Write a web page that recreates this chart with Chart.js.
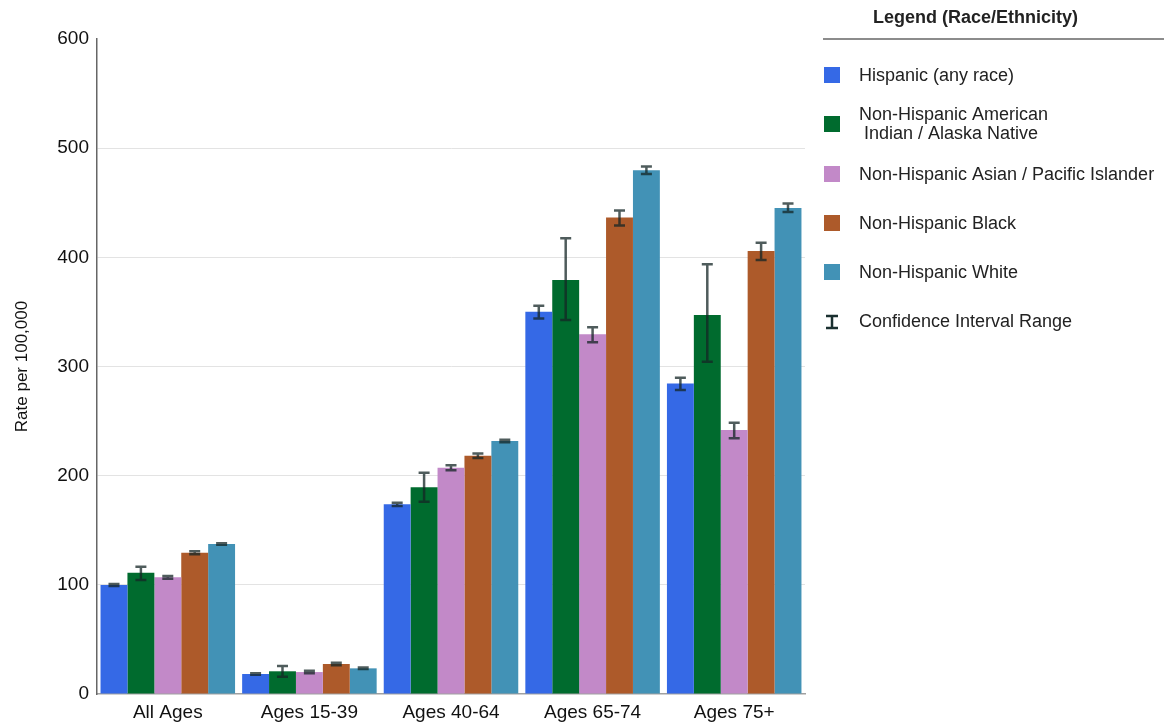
<!DOCTYPE html>
<html>
<head>
<meta charset="utf-8">
<script src="https://cdn.jsdelivr.net/npm/chart.js@4.4.1/dist/chart.umd.min.js"></script>
<style>
    body { margin: 0; background: #fff; font-family: "Liberation Sans", Arial, sans-serif; }
    #wrap { position: relative; width: 1164px; height: 726px; }
    #chart { position: absolute; left: 0; top: 0; }
    #legend { position: absolute; left: 823px; top: 0; width: 341px; color: #222; }
    #legend .title { position: absolute; left: 0; width: 305px; top: 7px; text-align: center; font-weight: bold; font-size: 18px; }
    #legend .rule { position: absolute; left: 0; top: 38px; width: 341px; height: 2px; background: #8c8c8c; }
    #legend .item { position: absolute; left: 0; font-size: 18px; line-height: 19px; }
    #legend .sw { position: absolute; left: 1px; width: 16px; height: 16px; }
    #legend .txt { position: absolute; left: 36px; white-space: nowrap; }
</style>
</head>
<body>
<div id="wrap">
    <canvas id="chart" width="1164" height="726"></canvas>
    <div id="legend"></div>
</div>
<script>
/* ===== DATA ===== */
const categories = ['All Ages', 'Ages 15-39', 'Ages 40-64', 'Ages 65-74', 'Ages 75+'];
const seriesNames = [
    'Hispanic (any race)',
    'Non-Hispanic American\n Indian / Alaska Native',
    'Non-Hispanic Asian / Pacific Islander',
    'Non-Hispanic Black',
    'Non-Hispanic White'
];
const seriesColors = ['#3569e6', '#006b2e', '#c289c8', '#ad5a2a', '#4292b6'];

const hispanic = [99.8, 18.3, 173.8, 350.2, 284.5];
const aian     = [111.0, 20.8, 189.4, 379.2, 347.2];
const asian    = [106.9, 20.1, 207.3, 329.5, 241.8];
const black    = [129.4, 27.5, 218.3, 436.6, 405.9];
const white    = [137.4, 23.5, 231.8, 479.7, 445.3];

// confidence intervals [lower, upper]
const hispanicCI = [[98.9, 100.7], [17.6, 19.0], [172.3, 175.3], [344.0, 355.6], [278.5, 289.8]];
const aianCI     = [[104.4, 116.5], [15.9, 25.6], [176.1, 202.7], [342.6, 417.4], [304.4, 393.6]];
const asianCI    = [[105.6, 108.2], [19.0, 21.2], [205.0, 209.6], [322.3, 336.0], [234.2, 248.5]];
const blackCI    = [[128.0, 130.8], [26.3, 28.7], [216.2, 220.4], [429.2, 443.0], [397.5, 413.4]];
const whiteCI    = [[136.7, 138.1], [22.8, 24.2], [230.6, 233.0], [476.3, 483.1], [441.6, 449.3]];

const yTicks = [0, 100, 200, 300, 400, 500, 600];

const seriesValues = [hispanic, aian, asian, black, white];
const seriesCI = [hispanicCI, aianCI, asianCI, blackCI, whiteCI];

// Barras de error dibujadas con la escala del gráfico
const errorBars = {
    id: 'errorBars',
    afterDatasetsDraw(chart) {
        const ctx = chart.ctx;
        const y = chart.scales.y;
        ctx.save();
        ctx.strokeStyle = 'rgba(20, 38, 38, 0.75)';
        ctx.lineWidth = 2.5;
        chart.data.datasets.forEach((ds, i) => {
            const meta = chart.getDatasetMeta(i);
            meta.data.forEach((bar, j) => {
                const ci = ds.ci[j];
                const yLo = y.getPixelForValue(ci[0]);
                const yHi = y.getPixelForValue(ci[1]);
                const x = bar.x;
                ctx.beginPath();
                ctx.moveTo(x, yLo); ctx.lineTo(x, yHi);
                ctx.moveTo(x - 5.5, yLo); ctx.lineTo(x + 5.5, yLo);
                ctx.moveTo(x - 5.5, yHi); ctx.lineTo(x + 5.5, yHi);
                ctx.stroke();
            });
        });
        ctx.restore();
    }
};

const datasets = seriesValues.map((vals, i) => ({
    label: seriesNames[i],
    data: vals,
    ci: seriesCI[i],
    backgroundColor: seriesColors[i],
    borderWidth: 0,
    barPercentage: 1.0,
    categoryPercentage: 0.95
}));

new Chart(document.getElementById('chart'), {
    type: 'bar',
    data: { labels: categories, datasets: datasets },
    plugins: [errorBars],
    options: {
        responsive: false,
        animation: false,
        layout: { padding: { left: 0, right: 359, top: 39, bottom: 0 } },
        plugins: {
            legend: { display: false },
            tooltip: { enabled: false }
        },
        scales: {
            x: {
                grid: { display: false, drawTicks: false },
                border: { color: '#a0a0a0', width: 1.5 },
                ticks: { color: '#111', font: { family: 'Liberation Sans', size: 19 }, padding: 7 },
                afterFit: s => { s.height = 32; }
            },
            y: {
                min: 0,
                max: 600,
                afterBuildTicks: s => { s.ticks = yTicks.map(v => ({ value: v })); },
                grid: {
                    drawTicks: false,
                    color: c => (c.tick.value === 0 || c.tick.value === 600) ? 'rgba(0,0,0,0)' : '#e3e3e3',
                    lineWidth: 1
                },
                border: { color: '#666', width: 1.5 },
                ticks: { color: '#111', font: { family: 'Liberation Sans', size: 19 }, padding: 8 },
                title: {
                    display: true,
                    text: 'Rate per 100,000',
                    color: '#111',
                    font: { family: 'Liberation Sans', size: 17 },
                    padding: { top: 12, bottom: 0 }
                },
                afterFit: s => { s.width = 97; }
            }
        }
    }
});

// Leyenda HTML
const legend = document.getElementById('legend');
legend.innerHTML = '<div class="title">Legend (Race/Ethnicity)</div><div class="rule"></div>';
const itemTops = [66, 105, 165, 214, 263];
seriesNames.forEach((name, i) => {
    const lines = name.split('\n');
    const el = document.createElement('div');
    el.className = 'item';
    el.style.top = itemTops[i] + 'px';
    const swTop = lines.length > 1 ? 11 : 1;
    el.innerHTML = `<div class="sw" style="top:${swTop}px;background:${seriesColors[i]}"></div>` +
        `<div class="txt">${lines.join('<br>').replace(/ /g, '&nbsp;')}</div>`;
    legend.appendChild(el);
});
const ci = document.createElement('div');
ci.className = 'item';
ci.style.top = '312px';
ci.innerHTML = '<svg style="position:absolute;left:0;top:2px" width="18" height="16"><path d="M3 2H15M9 2V14M3 14H15" stroke="#1a3030" stroke-width="2.5" fill="none"/></svg>' +
    '<div class="txt">Confidence Interval Range</div>';
legend.appendChild(ci);
</script>
</body>
</html>
